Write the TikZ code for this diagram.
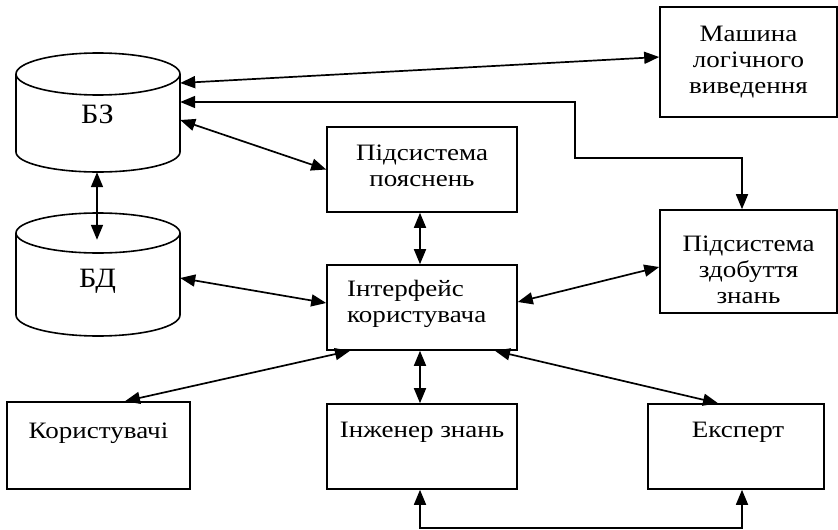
\documentclass[tikz,border=0pt]{standalone}
\usepackage{fontspec}
\usepackage{graphicx}
\setmainfont{Liberation Serif}
\usetikzlibrary{arrows.meta}
\newcommand{\wtxt}[1]{\scalebox{1.15}[1]{#1}}
\newcommand{\wlines}[2]{\scalebox{1.15}[1]{\begin{tabular}{@{}#1@{}}#2\end{tabular}}}
\begin{document}
\begin{tikzpicture}[x=1pt,y=-1pt,
  box/.style={draw, line width=1.6pt, rectangle, inner sep=0pt},
  txt/.style={font=\fontsize{23.5}{26}\selectfont, inner sep=0pt, text=black},
  big/.style={font=\fontsize{28}{30}\selectfont, inner sep=0pt, text=black},
  arr/.style={{Triangle[length=15pt,width=12pt]}-{Triangle[length=15pt,width=12pt]}, line width=1.7pt},
  cyl/.style={line width=1.6pt}]
\useasboundingbox (0,0) rectangle (838,530);
% cylinders
\draw[cyl] (98,74) ellipse [x radius=82pt, y radius=21pt];
\draw[cyl] (16,74) -- (16,152) arc[start angle=180,end angle=360,x radius=82pt,y radius=20pt] -- (180,74);
\draw[cyl] (98,233) ellipse [x radius=82pt, y radius=20pt];
\draw[cyl] (16,233) -- (16,315) arc[start angle=180,end angle=360,x radius=82pt,y radius=21pt] -- (180,233);
\node[minimum width=164pt, minimum height=119pt, inner sep=0pt] (bz) at (98,112.5) {};
\node[minimum width=164pt, minimum height=124pt, inner sep=0pt] (bd) at (98,275) {};
\node[big, anchor=base] (bzT) at (97.5,123) {\scalebox{1.08}[1]{БЗ}};
\node[big, anchor=base] (bdT) at (97.5,287) {\scalebox{1.08}[1]{БД}};
% boxes
\node[box, minimum width=177pt, minimum height=110pt] (mash) at (748.5,62) {};
\node[box, minimum width=190pt, minimum height=85pt] (poy) at (422,169.5) {};
\node[box, minimum width=177pt, minimum height=103pt] (zd) at (748.5,261.5) {};
\node[box, minimum width=190pt, minimum height=85pt] (int) at (422,307.5) {};
\node[box, minimum width=183pt, minimum height=87pt] (kor) at (98.5,445.5) {};
\node[box, minimum width=190pt, minimum height=85pt] (inzh) at (422,446.5) {};
\node[box, minimum width=176pt, minimum height=85pt] (eksp) at (736,446.5) {};
% texts
\node[txt] (mashT) at (748.5,62.5) {\wlines{c}{Машина\\логічного\\виведення}};
\node[txt] (poyT) at (422,167.8) {\wlines{c}{Підсистема\\пояснень}};
\node[txt] (zdT) at (748.5,272) {\wlines{c}{Підсистема\\здобуття\\знань}};
\node[txt, anchor=west] (intT) at (347,303.8) {\wlines{l}{Інтерфейс\\користувача}};
\node[txt, anchor=base] (korT) at (98.5,438) {\wtxt{Користувачі}};
\node[txt, anchor=base] (inzhT) at (422,437) {\wtxt{Інженер знань}};
\node[txt, anchor=base] (ekspT) at (738,437) {\wtxt{Експерт}};
% connectors
\coordinate (b1) at (575,158);
\coordinate (b2) at (742,528);
\draw[arr] ([yshift=29.5pt]bz.east) -- ([yshift=5pt]mash.west);
\draw[arr] ([yshift=10.5pt]bz.east) -| (b1) -| ([xshift=-6.5pt]zd.north);
\draw[arr] ([yshift=-7.5pt]bz.east) -- (poy.west);
\draw[arr] ([xshift=-1pt]bz.south) -- ([xshift=-1pt,yshift=-27pt]bd.north);
\draw[arr] ([yshift=-3pt]bd.east) -- ([yshift=4.5pt]int.west);
\draw[arr] ([xshift=-2pt]poy.south) -- ([xshift=-2pt]int.north);
\draw[arr] ([yshift=5.5pt]int.east) -- ([yshift=-5.5pt]zd.west);
\draw[arr] ([xshift=-72pt]int.south) -- ([xshift=26.5pt]kor.north);
\draw[arr] ([xshift=-2pt]int.south) -- ([xshift=-2pt]inzh.north);
\draw[arr] ([xshift=73pt]int.south) -- ([xshift=-18pt]eksp.north);
\draw[arr] ([xshift=-2pt]inzh.south) |- (b2) -- ([xshift=6pt]eksp.south);
\end{tikzpicture}
\end{document}
